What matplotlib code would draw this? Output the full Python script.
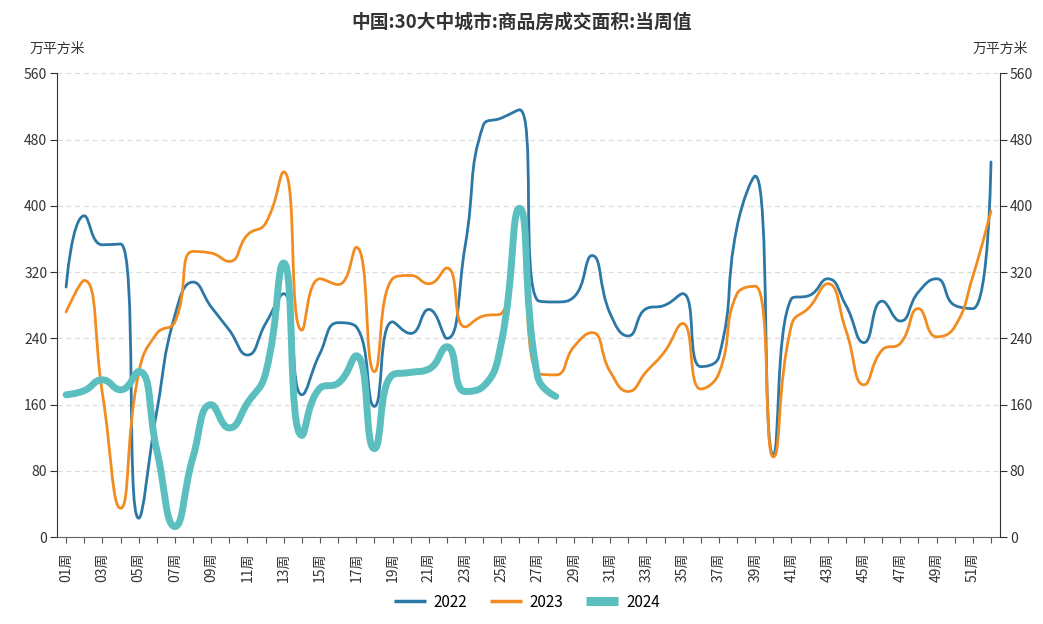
import numpy as np
import matplotlib
matplotlib.use("Agg")
import matplotlib.pyplot as plt
from matplotlib.path import Path
from matplotlib.patches import PathPatch
from matplotlib.lines import Line2D

plt.rcParams['font.family'] = ['Noto Sans CJK SC', 'DejaVu Sans']

title = "中国:30大中城市:商品房成交面积:当周值"
unit = "万平方米"
weeks = list(range(1, 53))
week_labels = [f"{w:02d}周" for w in weeks]

s2022 = [302, 388, 353, 354, 23, 152, 268, 308, 278, 250, 220, 258, 294, 172, 222, 259,
         254, 158, 260, 246, 275, 240, 351, 497, 506, 516, 286, 284, 290, 340,
         270, 243, 276, 280, 294, 206, 218, 375, 436, 99, 288, 292, 312, 280,
         235, 285, 261, 296, 312, 280, 276, 453]
s2023 = [272, 310, 174, 35, 198, 246, 260, 345, 343, 333, 365, 379, 441, 250, 312, 305,
         350, 200, 312, 316, 306, 325, 254, 267, 270, 393, 198, 196, 230, 247,
         200, 176, 200, 224, 258, 179, 198, 294, 303, 97, 256, 278, 306, 250,
         184, 226, 234, 276, 242, 254, 315, 394]
s2024 = [172, 177, 190, 178, 200, 105, 13, 97, 160, 132, 162, 198, 331, 123, 180, 186,
         219, 107, 196, 199, 203, 230, 176, 182, 235, 397, 194, 170]

series = [("2022", s2022, "#2b77a6", 2.0),
          ("2023", s2023, "#f28c20", 2.0),
          ("2024", s2024, "#5cbfbf", 5.0)]

# pixel scale factors (for ECharts-like smoothing ratios)
SX, SY = 18.13, 0.8286


def smooth_path(xs, ys, smooth=0.5):
    pts = [(x * SX, y * SY) for x, y in zip(xs, ys)]
    n = len(pts)
    verts = [pts[0]]
    codes = [Path.MOVETO]
    cp0 = pts[0]
    for i in range(1, n):
        x, y = pts[i]
        px, py = pts[i - 1]
        if i + 1 >= n:
            verts += [cp0, (x, y), (x, y)]
            codes += [Path.CURVE4] * 3
            break
        nx, ny = pts[i + 1]
        vx, vy = nx - px, ny - py
        lp = np.hypot(x - px, y - py)
        ln = np.hypot(nx - x, ny - y)
        ratio = ln / (ln + lp)
        ncx = x + vx * smooth * ratio
        ncy = y + vy * smooth * ratio
        ncx = max(min(ncx, max(nx, x)), min(nx, x))
        ncy = max(min(ncy, max(ny, y)), min(ny, y))
        vx, vy = ncx - x, ncy - y
        c1x = x - vx * lp / ln
        c1y = y - vy * lp / ln
        c1x = max(min(c1x, max(px, x)), min(px, x))
        c1y = max(min(c1y, max(py, y)), min(py, y))
        vx, vy = x - c1x, y - c1y
        ncx = x + vx * ln / lp
        ncy = y + vy * ln / lp
        verts += [cp0, (c1x, c1y), (x, y)]
        codes += [Path.CURVE4] * 3
        cp0 = (ncx, ncy)
    verts = [(a / SX, b / SY) for a, b in verts]
    return Path(verts, codes)


fig = plt.figure(figsize=(10.43, 6.24), dpi=100)
ax = fig.add_axes([0.0547, 0.139, 0.9041, 0.7435])

for name, vals, col, lw in series:
    xs = weeks[:len(vals)]
    p = smooth_path(xs, vals)
    ax.add_patch(PathPatch(p, facecolor='none', edgecolor=col, lw=lw,
                           capstyle='round', joinstyle='round', zorder=3 if name != "2024" else 4))

ax.set_xlim(0.5, 52.5)
ax.set_ylim(0, 560)
yt = list(range(0, 561, 80))
ax.set_yticks(yt)
ax.set_yticklabels([str(v) for v in yt], fontsize=10, color='#333333')
ax.set_xticks(weeks)
ax.set_xticklabels([lab if i % 2 == 0 else "" for i, lab in enumerate(week_labels)],
                   rotation=90, fontsize=10, color='#333333')
ax.tick_params(axis='x', length=4, color='#555555', pad=7)
ax.tick_params(axis='y', length=5, color='#333333', pad=2)
ax.grid(axis='y', linestyle=(0, (4, 3)), color='#dddddd', lw=0.9)
ax.set_axisbelow(True)
for sp in ['top', 'right']:
    ax.spines[sp].set_visible(False)
ax.spines['left'].set_color('#333333')
ax.spines['bottom'].set_color('#666666')

ax2 = ax.twinx()
ax2.set_ylim(0, 560)
ax2.set_yticks(yt)
ax2.set_yticklabels([str(v) for v in yt], fontsize=10, color='#333333')
ax2.tick_params(axis='y', length=5, color='#333333', pad=2)
for sp in ['top', 'left', 'bottom']:
    ax2.spines[sp].set_visible(False)
ax2.spines['right'].set_color('#333333')

fig.text(0.0547, 0.922, unit, ha='center', va='center', fontsize=10, color='#333333')
fig.text(0.9588, 0.922, unit, ha='center', va='center', fontsize=10, color='#333333')
fig.text(0.5, 0.965, title, ha='center', va='center', fontsize=13.5,
         fontweight='bold', color='#333333')

handles = [Line2D([0], [0], color=c, lw=(2.5 if lw < 3 else 6.5),
                  solid_capstyle='butt') for _, _, c, lw in series]
fig.legend(handles, [s[0] for s in series], loc='center', bbox_to_anchor=(0.505, 0.035),
           ncol=3, frameon=False, fontsize=11, handlelength=2.1, columnspacing=1.5,
           handletextpad=0.5)

fig.savefig("out.png", dpi=100)
